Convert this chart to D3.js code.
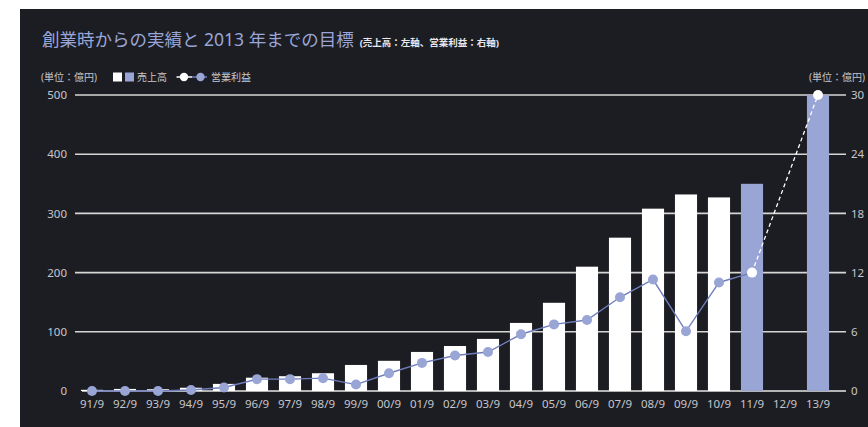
<!DOCTYPE html>
<html><head><meta charset="utf-8">
<script src="https://cdn.jsdelivr.net/npm/d3@7/dist/d3.min.js"></script>
<style>html,body{margin:0;padding:0;background:#fff;}svg{display:block;}</style>
</head><body>
<script>
const categories = ["91/9","92/9","93/9","94/9","95/9","96/9","97/9","98/9","99/9","00/9","01/9","02/9","03/9","04/9","05/9","06/9","07/9","08/9","09/9","10/9","11/9","12/9","13/9"];
const sales = [2,3.5,3,5.5,12,22.5,25,30,44,51,66,76,88,115,149,210,259,308,332,327,350,null,500];
const profit = [0,0,0,0.1,0.35,1.2,1.2,1.3,0.65,1.8,2.85,3.6,3.95,5.75,6.75,7.2,9.5,11.3,6.05,11.0,12.0,null,30];
const leftTicks = [0,100,200,300,400,500];
const rightTicks = [0,6,12,18,24,30];
const targetIndex = [20,22]; // highlighted bars (11/9, 13/9)

const W=868,H=427;
const font = "'Noto Sans','Noto Sans CJK JP',sans-serif";
const svg = d3.select("body").append("svg").attr("width",W).attr("height",H).style("font-family",font);
svg.append("rect").attr("x",20).attr("y",9).attr("width",W-20).attr("height",H-9).attr("fill","#1c1d22");

const x = d3.scaleBand().domain(categories).range([75.5,834.5]).paddingInner(0.33).paddingOuter(0.165);
const yL = d3.scaleLinear().domain([0,500]).range([391,95]);
const yR = d3.scaleLinear().domain([0,30]).range([391,95]);

// title
const t = svg.append("text").attr("x",42).attr("y",46).attr("fill","#9aa6d8").style("font-size","17.5px");
t.append("tspan").text("創業時からの実績と 2013 年までの目標");
t.append("tspan").attr("dx",6).attr("fill","#e8e8ee").style("font-size","9.5px").style("font-weight","bold").text("(売上高：左軸、営業利益：右軸)");

// grid
svg.append("g").selectAll("line").data(leftTicks.filter(d=>d>0)).join("line")
  .attr("x1",75).attr("x2",846).attr("y1",d=>yL(d)).attr("y2",d=>yL(d))
  .attr("stroke","#d6d6d6").attr("stroke-width",1.6);
svg.append("line").attr("x1",82).attr("x2",846).attr("y1",yL(0)).attr("y2",yL(0)).attr("stroke","#e6e6e6").attr("stroke-width",1.6);

const tickColor = "#c6c6cc";
// left axis
const axL = d3.axisLeft(yL).tickValues(leftTicks).tickSize(0).tickPadding(0);
const gL = svg.append("g").attr("transform","translate(67,0)").call(axL);
gL.select(".domain").remove();
gL.selectAll("text").attr("fill",tickColor).style("font-size","11.5px").style("font-family",font);

// right axis
const axR = d3.axisRight(yR).tickValues(rightTicks).tickSize(0).tickPadding(0);
const gR = svg.append("g").attr("transform","translate(851,0)").call(axR);
gR.select(".domain").remove();
gR.selectAll("text").attr("fill",tickColor).style("font-size","11.5px").style("font-family",font);

// x axis
const axX = d3.axisBottom(x).tickSize(0).tickPadding(0);
const gX = svg.append("g").attr("transform","translate(0,400)").call(axX);
gX.select(".domain").remove();
gX.selectAll("text").attr("fill",tickColor).style("font-size","11.5px").style("font-family",font).attr("dy","0.71em");

// unit labels
svg.append("text").attr("x",41).attr("y",81).attr("fill",tickColor).style("font-size","10px").text("(単位：億円)");
svg.append("text").attr("x",865).attr("y",81).attr("text-anchor","end").attr("fill",tickColor).style("font-size","10px").text("(単位：億円)");

// bars
const barData = categories.map((c,i)=>({c,v:sales[i],i})).filter(d=>d.v!=null);
svg.append("g").selectAll("rect").data(barData).join("rect")
  .attr("x",d=>x(d.c)).attr("width",x.bandwidth())
  .attr("y",d=>yL(d.v)).attr("height",d=>yL(0)-yL(d.v))
  .attr("fill",d=>targetIndex.includes(d.i)?"#98a5d5":"#ffffff");

// line
const pts = categories.map((c,i)=>({c,v:profit[i],i})).filter(d=>d.v!=null);
const cx = d=>x(d.c)+x.bandwidth()/2;
const line = d3.line().x(cx).y(d=>yR(d.v));
svg.append("path").datum(pts.filter(d=>d.i<=20)).attr("d",line).attr("fill","none").attr("stroke","#6f7dbd").attr("stroke-width",1.4);
svg.append("path").datum(pts.filter(d=>d.i>=20)).attr("d",line).attr("fill","none").attr("stroke","#ffffff").attr("stroke-width",1.3).attr("stroke-dasharray","4,3");
svg.append("g").selectAll("circle").data(pts).join("circle")
  .attr("cx",cx).attr("cy",d=>yR(d.v)).attr("r",5)
  .attr("fill",d=>d.i>=20?"#ffffff":"#98a5d5");

// legend
svg.append("rect").attr("x",113).attr("y",72.5).attr("width",9).attr("height",9).attr("fill","#ffffff");
svg.append("rect").attr("x",125).attr("y",72.5).attr("width",9).attr("height",9).attr("fill","#98a5d5");
svg.append("text").attr("x",137).attr("y",81).attr("fill",tickColor).style("font-size","10px").text("売上高");
svg.append("line").attr("x1",176.5).attr("x2",192).attr("y1",77).attr("y2",77).attr("stroke","#ffffff").attr("stroke-width",1.5);
svg.append("line").attr("x1",192).attr("x2",207).attr("y1",77).attr("y2",77).attr("stroke","#6f7dbd").attr("stroke-width",1.5);
svg.append("circle").attr("cx",184).attr("cy",77).attr("r",4.2).attr("fill","#ffffff");
svg.append("circle").attr("cx",200.5).attr("cy",77).attr("r",4.2).attr("fill","#98a5d5");
svg.append("text").attr("x",211).attr("y",81).attr("fill",tickColor).style("font-size","10px").text("営業利益");
</script>
</body></html>
